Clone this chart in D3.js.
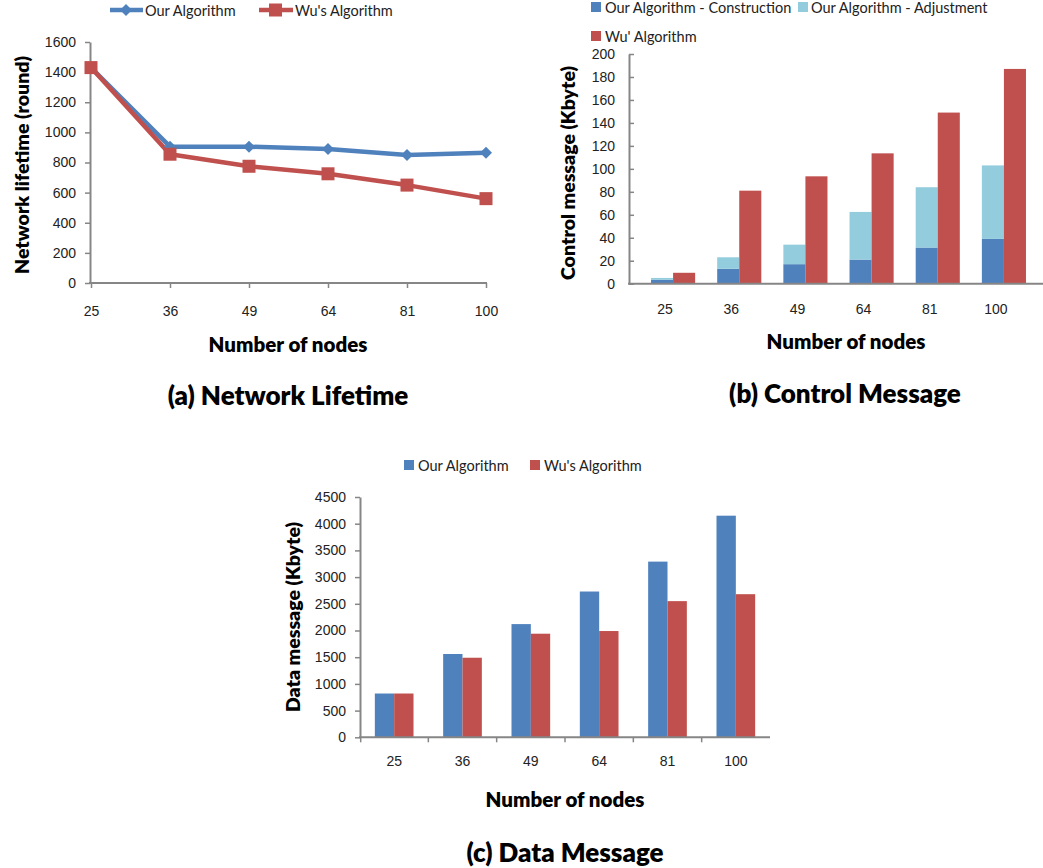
<!DOCTYPE html>
<html>
<head>
<meta charset="utf-8">
<script src="https://cdn.jsdelivr.net/npm/d3@7"></script>
<style>
  html, body { margin: 0; padding: 0; background: #fff; }
  svg { display: block; font-family: Lato, "Open Sans", sans-serif; }
  .tick text { fill: #222; }
</style>
</head>
<body>
<svg id="fig" width="1043" height="868"></svg>
<script>
// Shared categories: number of nodes in the network
const nodes = ["25", "36", "49", "64", "81", "100"];

// (a) Network lifetime in rounds
const lifetimeOurs = [1430, 905, 905, 890, 850, 865];
const lifetimeWu   = [1430, 855, 775, 725, 650, 560];
const lifetimeTicks = [0, 200, 400, 600, 800, 1000, 1200, 1400, 1600];

// (b) Control message size in Kbyte
const ctrlConstruction = [3.5, 13, 17, 21, 31.5, 39];
const ctrlAdjustment   = [1.5, 10, 17, 41.5, 52.5, 64];
const ctrlWu           = [9.5, 81, 93.5, 113.5, 149, 187];
const ctrlTicks = [0, 20, 40, 60, 80, 100, 120, 140, 160, 180, 200];

// (c) Data message size in Kbyte
const dataOurs = [820, 1560, 2120, 2730, 3290, 4150];
const dataWu   = [820, 1490, 1940, 1990, 2550, 2680];
const dataTicks = [0, 500, 1000, 1500, 2000, 2500, 3000, 3500, 4000, 4500];

const BLUE = "#4f81bd", RED = "#c0504d", LIGHT = "#93cddd", AXIS = "#868686";
const TITLE_WEIGHT = 800;
const svg = d3.select("#fig");
const fmt = d3.format("d");

function styleAxis(g) {
  g.select(".domain").attr("stroke", AXIS).attr("stroke-width", 2);
  g.selectAll(".tick line").attr("stroke", AXIS).attr("stroke-width", 1.5);
  g.selectAll(".tick text").style("font-size", "14px").attr("fill", "#222");
}

function yTitle(x, y, text) {
  svg.append("text").attr("transform", `translate(${x},${y}) rotate(-90)`)
    .attr("text-anchor", "middle").attr("dominant-baseline", "central")
    .style("font-size", "19.5px").style("font-weight", TITLE_WEIGHT).text(text);
}
function plainText(x, y, text, size) {
  svg.append("text").attr("x", x).attr("y", y)
    .attr("text-anchor", "middle").attr("dominant-baseline", "central")
    .style("font-size", size + "px").style("font-weight", TITLE_WEIGHT).text(text);
}
function legendText(x, y, text) {
  svg.append("text").attr("x", x).attr("y", y).attr("dominant-baseline", "central")
    .style("font-size", "14.5px").attr("fill", "#222").text(text);
}

// ---------- (a) Network Lifetime : line chart ----------
{
  const x = d3.scalePoint().domain(nodes).range([91, 486]);
  const y = d3.scaleLinear().domain([0, 1600]).range([283, 42]);

  const gy = svg.append("g").attr("transform", "translate(90,0)")
    .call(d3.axisLeft(y).tickValues(lifetimeTicks).tickFormat(fmt)
      .tickSizeOuter(0).tickSizeInner(5).tickPadding(9));
  styleAxis(gy);
  const gx = svg.append("g").attr("transform", "translate(0,283)")
    .call(d3.axisBottom(x).tickSizeOuter(0).tickSizeInner(5).tickPadding(18));
  gx.select(".domain").attr("d", "M89,0H487");
  styleAxis(gx);

  const line = d3.line().x((d, i) => x(nodes[i])).y(d => y(d));
  svg.append("path").datum(lifetimeOurs).attr("d", line)
    .attr("fill", "none").attr("stroke", BLUE).attr("stroke-width", 4.5).attr("stroke-linejoin", "round");
  svg.append("path").datum(lifetimeWu).attr("d", line)
    .attr("fill", "none").attr("stroke", RED).attr("stroke-width", 4.5).attr("stroke-linejoin", "round");

  const diamond = d3.symbol().type(d3.symbolSquare).size(72);
  svg.append("g").selectAll("path").data(lifetimeOurs).join("path")
    .attr("d", diamond).attr("fill", BLUE)
    .attr("transform", (d, i) => `translate(${x(nodes[i])},${y(d)}) rotate(45)`);
  svg.append("g").selectAll("rect").data(lifetimeWu).join("rect")
    .attr("x", (d, i) => x(nodes[i]) - 6.5).attr("y", d => y(d) - 6.5)
    .attr("width", 13).attr("height", 13).attr("fill", RED);

  // legend
  svg.append("line").attr("x1", 110).attr("x2", 143).attr("y1", 10).attr("y2", 10)
    .attr("stroke", BLUE).attr("stroke-width", 4.5);
  svg.append("path").attr("d", diamond())
    .attr("transform", "translate(126,10) rotate(45)").attr("fill", BLUE);
  legendText(145, 10, "Our Algorithm");
  svg.append("line").attr("x1", 259).attr("x2", 293).attr("y1", 10).attr("y2", 10)
    .attr("stroke", RED).attr("stroke-width", 4.5);
  svg.append("rect").attr("x", 269).attr("y", 3.5).attr("width", 13).attr("height", 13).attr("fill", RED);
  legendText(295, 10, "Wu's Algorithm");

  yTitle(21, 165, "Network lifetime (round)");
  plainText(288, 344, "Number of nodes", 20.5);
  plainText(288, 395, "(a) Network Lifetime", 26);
}

// ---------- (b) Control Message : stacked + clustered bars ----------
{
  const x = d3.scaleBand().domain(nodes).range([640, 1037]).paddingInner(1 / 3).paddingOuter(1 / 6);
  const sub = d3.scaleBand().domain(["ours", "wu"]).range([0, x.bandwidth()]);
  const y = d3.scaleLinear().domain([0, 200]).range([283.7, 54]);

  const gy = svg.append("g").attr("transform", "translate(629,0)")
    .call(d3.axisLeft(y).tickValues(ctrlTicks).tickFormat(fmt)
      .tickSizeOuter(0).tickSizeInner(-5).tickPadding(14));
  styleAxis(gy);

  const stacked = nodes.map((n, i) => ({ n, c: ctrlConstruction[i], a: ctrlAdjustment[i], w: ctrlWu[i] }));
  const g = svg.append("g");
  g.selectAll(".con").data(stacked).join("rect")
    .attr("x", d => x(d.n) + sub("ours")).attr("width", sub.bandwidth())
    .attr("y", d => y(d.c)).attr("height", d => y(0) - y(d.c)).attr("fill", BLUE);
  g.selectAll(".adj").data(stacked).join("rect")
    .attr("x", d => x(d.n) + sub("ours")).attr("width", sub.bandwidth())
    .attr("y", d => y(d.c + d.a)).attr("height", d => y(d.c) - y(d.c + d.a)).attr("fill", LIGHT);
  g.selectAll(".wu").data(stacked).join("rect")
    .attr("x", d => x(d.n) + sub("wu")).attr("width", sub.bandwidth())
    .attr("y", d => y(d.w)).attr("height", d => y(0) - y(d.w)).attr("fill", RED);

  const gx = svg.append("g").attr("transform", "translate(0,283.7)")
    .call(d3.axisBottom(x).tickSize(0).tickPadding(20));
  gx.select(".domain").attr("d", "M628,0H1043");
  styleAxis(gx);
  gx.selectAll(".tick text").attr("dx", -8);

  // legend
  svg.append("rect").attr("x", 591).attr("y", 2).attr("width", 10).attr("height", 10).attr("fill", BLUE);
  legendText(605, 7, "Our Algorithm - Construction");
  svg.append("rect").attr("x", 798).attr("y", 2).attr("width", 10).attr("height", 10).attr("fill", LIGHT);
  legendText(811, 7, "Our Algorithm - Adjustment");
  svg.append("rect").attr("x", 591).attr("y", 31).attr("width", 10).attr("height", 10).attr("fill", RED);
  legendText(605, 36, "Wu' Algorithm");

  yTitle(567, 173, "Control message (Kbyte)");
  plainText(846, 341, "Number of nodes", 20.5);
  plainText(845, 393, "(b) Control Message", 26);
}

// ---------- (c) Data Message : clustered bars ----------
{
  const x = d3.scaleBand().domain(nodes).range([360, 770]).paddingInner(0.434).paddingOuter(0.217);
  const sub = d3.scaleBand().domain(["ours", "wu"]).range([0, x.bandwidth()]);
  const y = d3.scaleLinear().domain([0, 4500]).range([737.3, 497]);

  const gy = svg.append("g").attr("transform", "translate(360,0)")
    .call(d3.axisLeft(y).tickValues(dataTicks).tickFormat(fmt)
      .tickSizeOuter(0).tickSizeInner(5).tickPadding(9));
  styleAxis(gy);

  const rows = nodes.map((n, i) => ({ n, o: dataOurs[i], w: dataWu[i] }));
  const g = svg.append("g");
  g.selectAll(".o").data(rows).join("rect")
    .attr("x", d => x(d.n) + sub("ours")).attr("width", sub.bandwidth())
    .attr("y", d => y(d.o)).attr("height", d => y(0) - y(d.o)).attr("fill", BLUE);
  g.selectAll(".w").data(rows).join("rect")
    .attr("x", d => x(d.n) + sub("wu")).attr("width", sub.bandwidth())
    .attr("y", d => y(d.w)).attr("height", d => y(0) - y(d.w)).attr("fill", RED);

  const gx = svg.append("g").attr("transform", "translate(0,737.3)")
    .call(d3.axisBottom(x).tickSize(0).tickPadding(19));
  gx.select(".domain").attr("d", "M359,0H770");
  styleAxis(gx);
  // tick marks on category boundaries
  const half = x.step() / 2;
  gx.selectAll(".bound").data(nodes.slice(1)).join("line")
    .attr("x1", d => x(d) + x.bandwidth() / 2 - half).attr("x2", d => x(d) + x.bandwidth() / 2 - half)
    .attr("y1", 0).attr("y2", 5).attr("stroke", AXIS).attr("stroke-width", 1.5);
  gx.append("line").attr("x1", 360.7).attr("x2", 360.7).attr("y1", 0).attr("y2", 5)
    .attr("stroke", AXIS).attr("stroke-width", 1.5);

  // legend
  svg.append("rect").attr("x", 404).attr("y", 460).attr("width", 10).attr("height", 10).attr("fill", BLUE);
  legendText(418, 465, "Our Algorithm");
  svg.append("rect").attr("x", 530).attr("y", 460).attr("width", 10).attr("height", 10).attr("fill", RED);
  legendText(544, 465, "Wu's Algorithm");

  yTitle(292, 617, "Data message (Kbyte)");
  plainText(565, 799, "Number of nodes", 20.5);
  plainText(565, 852, "(c) Data Message", 26);
}
</script>
</body>
</html>
